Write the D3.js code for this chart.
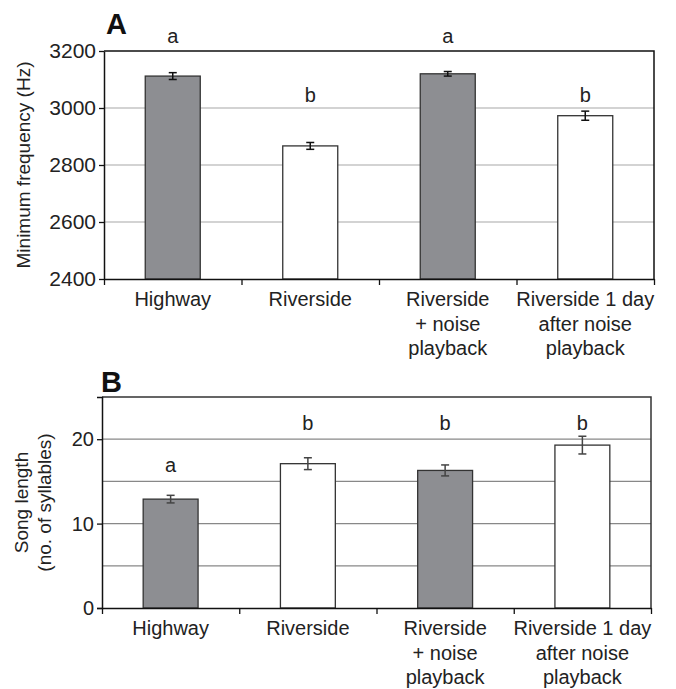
<!DOCTYPE html>
<html>
<head>
<meta charset="utf-8">
<script src="https://cdn.jsdelivr.net/npm/d3@7"></script>
<style>
body { margin: 0; background: #fff; }
svg { font-family: "Liberation Sans", Arial, sans-serif; }
</style>
</head>
<body>
<svg width="676" height="689"></svg>
<script>
// data
var categories = [["Highway"], ["Riverside"], ["Riverside", "+ noise", "playback"], ["Riverside 1 day", "after noise", "playback"]]
var isNoise = [true, false, true, false]

var freqMean = [3112, 2867, 3120, 2973]
var freqErr = [12, 12, 8, 16]
var freqLetters = ["a", "b", "a", "b"]
var freqTicks = [2400, 2600, 2800, 3000, 3200]
var freqGrid = [2600, 2800, 3000]

var songMean = [12.9, 17.1, 16.3, 19.3]
var songErr = [0.45, 0.7, 0.65, 1.05]
var songLetters = ["a", "b", "b", "b"]
var songTicks = [0, 10, 20]
var songGrid = [5, 10, 15, 20]

var svg = d3.select("svg")

function panel(opt) {
  var width = opt.right - opt.left
  var height = opt.bottom - opt.top
  var g = svg.append("g").attr("transform", "translate(" + opt.left + "," + opt.top + ")")

  var x = d3.scaleBand().domain(d3.range(4)).range([0, width]).padding(0)
  var xb = d3.scaleLinear().domain([0, 4]).range([0, width])
  var y = d3.scaleLinear().domain(opt.domain).range([height, 0])
  var barW = x.bandwidth() * 0.4

  // gridlines
  g.selectAll(".grid").data(opt.grid).enter().append("line")
    .attr("x1", 0).attr("x2", width)
    .attr("y1", function(d){ return y(d) }).attr("y2", function(d){ return y(d) })
    .style("stroke", opt.gridColor).style("stroke-width", 1.2)

  // top and right border
  g.append("path").attr("d", "M0,0H" + width + "V" + height)
    .style("fill", "none").style("stroke", opt.boxColor).style("stroke-width", 1.5)

  // bars
  g.selectAll(".bar").data(opt.mean).enter().append("rect")
    .attr("x", function(d, i){ return x(i) + (x.bandwidth() - barW) / 2 })
    .attr("y", function(d){ return y(d) })
    .attr("width", barW)
    .attr("height", function(d){ return height - y(d) })
    .style("fill", function(d, i){ return isNoise[i] ? "#8d8e92" : "#fff" })
    .style("stroke", "#333").style("stroke-width", 1.3)

  // error bars
  var eb = g.selectAll(".err").data(opt.mean).enter().append("g")
    .attr("transform", function(d, i){ return "translate(" + (x(i) + x.bandwidth() / 2) + ",0)" })
    .style("stroke", opt.errColor).style("stroke-width", 1.5)
  eb.append("line").attr("x1", 0).attr("x2", 0)
    .attr("y1", function(d, i){ return y(d + opt.err[i]) })
    .attr("y2", function(d, i){ return y(d - opt.err[i]) })
  eb.append("line").attr("x1", -4).attr("x2", 4)
    .attr("y1", function(d, i){ return y(d + opt.err[i]) })
    .attr("y2", function(d, i){ return y(d + opt.err[i]) })
  eb.append("line").attr("x1", -4).attr("x2", 4)
    .attr("y1", function(d, i){ return y(d - opt.err[i]) })
    .attr("y2", function(d, i){ return y(d - opt.err[i]) })

  // significance letters
  g.selectAll(".letter").data(opt.letters).enter().append("text")
    .attr("x", function(d, i){ return x(i) + x.bandwidth() / 2 })
    .attr("y", function(d, i){ return opt.letterY[d] - opt.top })
    .attr("text-anchor", "middle")
    .style("font-size", "20px").style("fill", "#222")
    .text(function(d){ return d })

  // y axis
  var yAxis = d3.axisLeft(y).tickValues(opt.ticks).tickSize(5).tickSizeOuter(opt.outer)
    .tickPadding(3).tickFormat(d3.format("d"))
  var ya = g.append("g").call(yAxis)
  ya.select(".domain").style("stroke", "#111").style("stroke-width", 1.5)
  ya.selectAll(".tick line").style("stroke", "#111").style("stroke-width", 1.3)
  ya.selectAll("text").style("font-size", opt.tickFont).style("fill", "#222").attr("font-family", null)

  // x axis with boundary ticks
  var xAxis = d3.axisBottom(xb).tickValues([0, 1, 2, 3, 4]).tickSize(6).tickSizeOuter(0).tickFormat("")
  var xa = g.append("g").attr("transform", "translate(0," + height + ")").call(xAxis)
  xa.select(".domain").style("stroke", "#111").style("stroke-width", 1.5)
  xa.selectAll(".tick line").style("stroke", "#111").style("stroke-width", 1.3)

  // category labels
  var lab = g.selectAll(".cat").data(categories).enter().append("text")
    .attr("x", function(d, i){ return x(i) + x.bandwidth() / 2 })
    .attr("y", height + 27)
    .attr("text-anchor", "middle")
    .style("font-size", "20px").style("fill", "#222")
  lab.selectAll("tspan").data(function(d){ return d }).enter().append("tspan")
    .attr("x", function(){ return d3.select(this.parentNode).attr("x") })
    .attr("dy", function(d, j){ return j === 0 ? 0 : 24.5 })
    .text(function(d){ return d })

  // panel letter
  svg.append("text").attr("x", opt.left + opt.tagDx).attr("y", opt.tagY)
    .style("font-size", "29px").style("font-weight", "bold").style("fill", "#111")
    .text(opt.tag)

  // y title
  var t = svg.append("text")
    .attr("transform", "translate(" + opt.titleX + "," + (opt.top + height / 2) + ") rotate(-90)")
    .attr("text-anchor", "middle")
    .style("font-size", "19px").style("fill", "#222")
  t.selectAll("tspan").data(opt.title).enter().append("tspan")
    .attr("x", 0)
    .attr("dy", function(d, j){ return j === 0 ? 0 : 23 })
    .text(function(d){ return d })
}

panel({
  left: 104, right: 654, top: 51, bottom: 279,
  domain: [2400, 3200], ticks: freqTicks, grid: freqGrid, outer: 0, tickFont: "21px",
  mean: freqMean, err: freqErr, letters: freqLetters,
  letterY: { a: 43, b: 102 },
  gridColor: "#a8a8a8", boxColor: "#111", errColor: "#111",
  tag: "A", tagDx: 2, tagY: 34,
  title: ["Minimum frequency (Hz)"], titleX: 30
})

panel({
  left: 102, right: 651, top: 397, bottom: 608,
  domain: [0, 25], ticks: songTicks, grid: songGrid, outer: 5, tickFont: "20px",
  mean: songMean, err: songErr, letters: songLetters,
  letterY: { a: 472, b: 430 },
  gridColor: "#888", boxColor: "#333", errColor: "#444",
  tag: "B", tagDx: -1, tagY: 392,
  title: ["Song length", "(no. of syllables)"], titleX: 28
})
</script>
</body>
</html>
